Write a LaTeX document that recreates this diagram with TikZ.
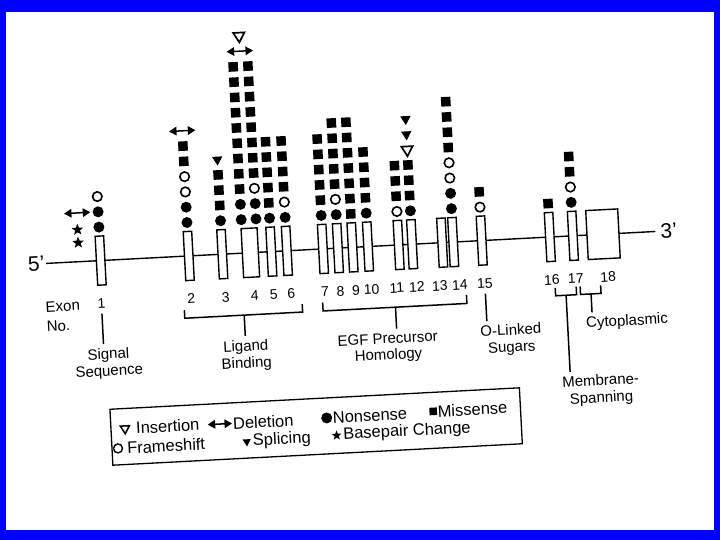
\documentclass[tikz,border=0pt]{standalone}
\usepackage{fontspec}
\setmainfont{Liberation Sans}
\usetikzlibrary{arrows.meta,positioning,calc,shapes.geometric}

\tikzset{
  exon/.style={draw, fill=white, line width=1.4pt, minimum height=49, inner sep=0},
  num/.style={font=\fontsize{14}{16}\selectfont, inner sep=5pt},
  lab/.style={font=\fontsize{15}{17}\selectfont, align=center, inner sep=4pt},
  legtxt/.style={font=\fontsize{16.5}{18}\selectfont, anchor=west, inner sep=0.5pt},
  brk/.style={line width=1.5pt},
  mkn/.style={circle, fill, minimum size=11, inner sep=0},
  mkf/.style={circle, draw, line width=1.6pt, minimum size=9.5, inner sep=0},
  mkm/.style={rectangle, fill, minimum size=9.5, inner sep=0},
  mks/.style={regular polygon, regular polygon sides=3, shape border rotate=180, fill, minimum size=12, inner sep=0},
  mki/.style={regular polygon, regular polygon sides=3, shape border rotate=180, draw, line width=1.7pt, minimum size=13, inner sep=0},
  delarr/.style={{Triangle[length=7.5pt,width=8.5pt]}-{Triangle[length=7.5pt,width=8.5pt]}, line width=1.5pt},
  mkd/.style={minimum width=26, minimum height=8, inner sep=0,
    append after command={(\tikzlastnode.west) edge[delarr] (\tikzlastnode.east)}},
  mkb/.style={star, star points=5, star point ratio=2.3, fill, minimum size=12, inner sep=0},
}

\begin{document}
\begin{tikzpicture}[x=1pt, y=-1pt]
	\useasboundingbox (0,0) rectangle (720,540);
	\fill[blue] (0,0) rectangle (720,540);
	\fill[white] (6,12) rectangle (714,530);
	
	\begin{scope}[rotate around={3:(360,270)}, transform shape]
	% gene axis
	\node[font=\fontsize{21}{21}\selectfont, inner sep=1.5pt] (p5) at (37,247) {5'};
	\node[font=\fontsize{21}{21}\selectfont, inner sep=5pt, anchor=west] (p3) at (657,247) {3'};
	\draw[line width=1.4pt] (p5) -- (p3);
	
	% exons
	\foreach \e/\x/\w in {1/101.5/8.5, 2/189.7/8.5, 3/223.3/8.5, 4/251.4/16, 5/272.4/8.5, 6/288/8.5,
		7/324.1/8.5, 8/339.1/8.5, 9/353.7/8.5, 10/369.2/8.5, 11/399.9/8.5, 12/413.4/8.5,
		13/443.5/8.5, 14/454.5/8.5, 15/483.1/8.5, 16/551.3/8.5, 17/574.4/8.5, 18/604.5/32}
		\node[exon, minimum width=\w] (e\e) at (\x,247) {};
	
	\foreach \e/\x in {1/100, 2/190, 3/224.5, 4/253.5, 5/272.5, 6/290, 7/324, 8/339.5, 9/355,
		10/370.5, 11/396, 12/416, 13/439, 14/459, 15/484, 16/551, 17/575, 18/607.5}
		\node[num] (n\e) at (\x,290) {\e};
	
	% mutations, bottom to top
	\foreach \col/\x/\lst in {1/101.5/{n,n,f}, 2/189.7/{n,n,f,f,m,m,d}, 3/223.3/{n,m,m,m,s},
		4a/244/{n,n,m,m,m,m,m,m,m,m,m}, 4b/258.8/{n,n,f,m,m,m,m,m,m,m,m},
		5/272.4/{n,m,m,m,m,m}, 6/288/{n,f,m,m,m,m}, 7/324.1/{n,m,m,m,m,m},
		8/339.1/{n,f,m,m,m,m,m}, 9/353.7/{m,m,m,m,m,m,m}, 10/369.2/{n,m,m,m,m},
		11/399.9/{f,m,m,m}, 12/413.4/{n,m,m,m,i,s,s}, 14/454.5/{n,n,f,f,m,m,m,m},
		15/483.1/{f,m}, 16/551.3/{m}, 17/574.4/{n,f,m,m}}
		\foreach \c [count=\k] in \lst
			\node[mk\c] (m\col-\k) at (\x,{213.5-15.3*(\k-1)}) {};
	\node[mkd] (m4-d) at (251.4,45.2) {};
	\node[mki] (m4-i) at (251.4,29.9) {};
	\node[mkd] (m1-d) at (80.5,198.2) {};
	\node[mkb] (m1-b1) at (80,215) {};
	\node[mkb] (m1-b2) at (80,228) {};
	
	% regions
	\node[font=\fontsize{15}{19.5}\selectfont, align=left, anchor=west, inner sep=0] (exno) at (44,300.5) {Exon\\No.};
	
	\node[lab] (sig) at (104.3,350.3) {Signal\\Sequence};
	\draw[brk] (n1) -- (n1 |- sig.north);
	
	\coordinate (ligL) at (182.5,301);
	\coordinate (ligM) at (242,309);
	\coordinate (ligR) at (300.5,301);
	\draw[brk] (ligL) |- (ligM) -| (ligR);
	\node[lab] (ligand) at (242,349.5) {Ligand\\Binding};
	\draw[brk] (ligM) -- (ligand);
	
	\coordinate (egfL) at (321,300.5);
	\coordinate (egfM) at (393.5,309);
	\coordinate (egfR) at (465,300.5);
	\draw[brk] (egfL) |- (egfM) -| (egfR);
	\node[lab, font=\fontsize{15}{16}\selectfont] (egf) at (384,349.4) {EGF Precursor\\Homology};
	\draw[brk] (egfM) -- (egfM |- egf.north);
	
	\node[lab] (olink) at (507.5,347.5) {O-Linked\\Sugars};
	\draw[brk] (n15) -- (n15 |- olink.north);
	
	\coordinate (memL) at (554,298);
	\coordinate (memM) at (564.5,306);
	\coordinate (memR) at (575,298);
	\draw[brk] (memL) |- (memM) -| (memR);
	\node[lab] (memb) at (594.5,402.5) {Membrane-\\Spanning};
	\draw[brk] (memM) -- (memM |- memb.north);
	
	\coordinate (cytL) at (579,298);
	\coordinate (cytM) at (589.5,306);
	\coordinate (cytR) at (599.5,298);
	\draw[brk] (cytL) |- (cytM) -| (cytR);
	\node[lab] (cyto) at (624,335.6) {Cytoplasmic};
	\draw[brk] (cytM) -- (cytM |- cyto.north);
	
	% legend
	\node[draw, line width=1.3pt, minimum width=410, minimum height=56, inner sep=0] (legend) at (308,424) {};
	\node[mki, minimum size=10.5, line width=1.5pt] (l-ins) at (117,416) {};
	\node[legtxt] (t-ins) at (127.5,416) {Insertion};
	\node[mkd, minimum width=24] (l-del) at (212,416.5) {};
	\node[legtxt] (t-del) at (224.5,416.5) {Deletion};
	\node[mkn] (l-non) at (319,416) {};
	\node[legtxt] (t-non) at (324.5,416) {Nonsense};
	\node[mkm, minimum size=7.5] (l-mis) at (425.7,415) {};
	\node[legtxt] (t-mis) at (429.5,415) {Missense};
	\node[mkf, minimum size=9, line width=1.4pt] (l-fra) at (109,435.5) {};
	\node[legtxt] (t-fra) at (117.5,435.5) {Frameshift};
	\node[mks, minimum size=9.5] (l-spl) at (238,435.5) {};
	\node[legtxt] (t-spl) at (243.5,435.5) {Splicing};
	\node[mkb, minimum size=10] (l-bas) at (328,434) {};
	\node[legtxt] (t-bas) at (334,434) {Basepair Change};
	\end{scope}
\end{tikzpicture}
\end{document}
